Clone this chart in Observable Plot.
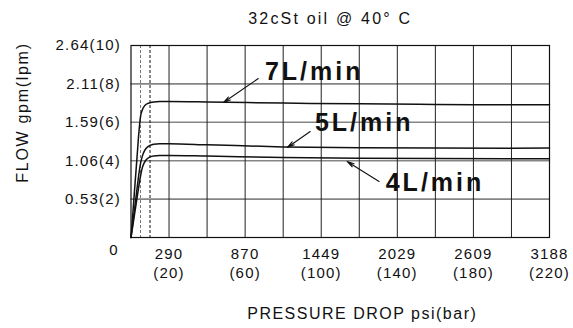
<!DOCTYPE html>
<html><head><meta charset="utf-8">
<script src="https://cdn.jsdelivr.net/npm/d3@7"></script>
<script src="https://cdn.jsdelivr.net/npm/@observablehq/plot@0.6"></script>
<style>
html,body{margin:0;padding:0;background:#fff;}
#chart svg text{letter-spacing:1.2px;}
</style></head><body><div id="chart"></div>
<script>
const pressureBar = [0,1,2,3,4,5,6,7,8,10,12,15,20,40,80,120,160,200,220];
const flow7 = [0,1.3,2.65,3.95,5.3,6.3,6.66,6.84,6.94,7.02,7.06,7.08,7.08,7.06,7.0,6.96,6.93,6.91,6.92];
const flow5 = [0,0.8,1.6,2.4,3.2,3.85,4.25,4.5,4.65,4.8,4.86,4.88,4.88,4.83,4.72,4.68,4.66,4.65,4.66];
const flow4 = [0,0.65,1.3,1.95,2.6,3.2,3.65,3.9,4.05,4.2,4.25,4.27,4.27,4.24,4.17,4.13,4.11,4.1,4.1];
const seriesNames = ["7L/min","5L/min","4L/min"];
const xTickBar = [20,60,100,140,180,220];
const xTickPsi = ["290","870","1449","2029","2609","3188"];
const yTickLpm = [2,4,6,8,10];
const yTickLabels = ["0.53(2)","1.06(4)","1.59(6)","2.11(8)","2.64(10)"];
const xGridBar = [20,40,60,80,100,120,140,160,180,200];
const yGridLpm = [2,4,6,8];
const dashedBar = [5,10];
const dashedColor = ["#777","#111"];
const labelX = [96.3,122.6,159.8];
const labelY = [8.6,5.94,2.86];
const arrowTailX = [66.9,94.2,130.4];
const arrowTailY = [8.28,5.52,2.92];
const arrowTipX = [48.6,82.2,113.6];
const arrowTipY = [7.03,4.69,3.96];
const titleText = "32cSt oil @ 40° C";
const xTitle = "PRESSURE DROP psi(bar)";
const yTitle = "FLOW gpm(lpm)";

const allSeries = [flow7, flow5, flow4];
const lineData = allSeries.flatMap((vals, s) => pressureBar.map((p, i) => ({series: seriesNames[s], bar: p, lpm: vals[i]})));
const annot = seriesNames.map((name, i) => ({name, lx: labelX[i], ly: labelY[i], x1: arrowTailX[i], y1: arrowTailY[i], x2: arrowTipX[i], y2: arrowTipY[i]}));
const dashed = dashedBar.map((b, i) => ({b, c: dashedColor[i]}));

const chart = Plot.plot({
  width: 573, height: 328,
  marginLeft: 130.5, marginRight: 24, marginTop: 45, marginBottom: 91,
  style: {fontFamily: "'Liberation Sans', Arial, sans-serif", fontSize: "15px", color: "#111", background: "#fff"},
  x: {domain: [0, 220]},
  y: {domain: [0, 10]},
  marks: [
    Plot.gridY(yGridLpm, {stroke: "#858585", strokeWidth: 1.6, strokeOpacity: 1}),
    Plot.gridX(xGridBar, {stroke: "#222", strokeWidth: 1, strokeOpacity: 1}),
    Plot.ruleX(dashed, {x: "b", stroke: "c", strokeDasharray: "3,2", strokeWidth: 1}),
    Plot.frame({stroke: "#111", strokeWidth: 1.2}),
    Plot.line(lineData, {x: "bar", y: "lpm", z: "series", curve: "monotone-x", stroke: "#111", strokeWidth: 1.5}),
    Plot.arrow(annot, {x1: "x1", y1: "y1", x2: "x2", y2: "y2", stroke: "#111", strokeWidth: 1.1, headLength: 10, headAngle: 28}),
    Plot.text(annot, {x: "lx", y: "ly", text: "name", fontSize: 25, fontWeight: "bold", fill: "#111"}),
    Plot.axisY(yTickLpm, {tickSize: 0, tickPadding: 10, tickFormat: (d) => yTickLabels[yTickLpm.indexOf(d)], fontSize: 15, fill: "#111"}),
    Plot.axisX(xTickBar, {tickSize: 0, tickPadding: 8, tickFormat: (d) => `${xTickPsi[xTickBar.indexOf(d)]}\n(${d})`, fontSize: 15, lineHeight: 1.27, fill: "#111"}),
    Plot.text(["0"], {x: 0, y: 0, text: (d) => d, dx: -17, dy: 13, fontSize: 15, fill: "#111"}),
    Plot.text([titleText], {frameAnchor: "top", text: (d) => d, textAnchor: "middle", lineAnchor: "middle", dx: -10, dy: -27, fontSize: 16, fill: "#111"}),
    Plot.text([xTitle], {frameAnchor: "bottom", text: (d) => d, textAnchor: "middle", lineAnchor: "middle", dx: 22, dy: 76, fontSize: 16, fill: "#111"}),
    Plot.text([yTitle], {frameAnchor: "left", text: (d) => d, textAnchor: "middle", lineAnchor: "middle", rotate: -90, dx: -108.5, dy: -29, fontSize: 16, fill: "#111"})
  ]
});
document.getElementById("chart").appendChild(chart);
const sel = d3.select(chart).selectAll("text");
sel.filter(function() { return seriesNames.includes(this.textContent); }).style("letter-spacing", "3px");
sel.filter(function() { return this.textContent === titleText; }).style("letter-spacing", "2.2px");
sel.filter(function() { return this.textContent === xTitle; }).style("letter-spacing", "1.5px");
sel.filter(function() { return this.textContent === yTitle; }).style("letter-spacing", "1.7px");
</script></body></html>
